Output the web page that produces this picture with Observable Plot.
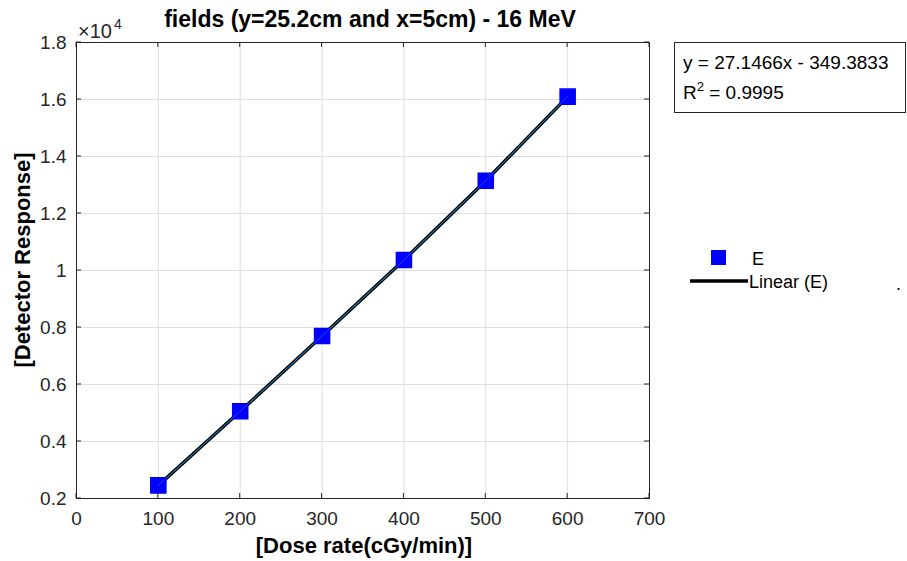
<!DOCTYPE html>
<html><head><meta charset="utf-8">
<script src="https://cdn.jsdelivr.net/npm/d3@7"></script>
<script src="https://cdn.jsdelivr.net/npm/@observablehq/plot@0.6"></script>
<style>body{margin:0;background:#fff}svg{font-family:"Liberation Sans",Arial,sans-serif}</style>
</head><body><div id="chart"></div>
<script>
const doseRate = [100, 200, 300, 400, 500, 600];
const response = [2460, 5060, 7700, 10370, 13150, 16100];
const fitSlope = 27.1466, fitIntercept = -349.3833, rSquared = 0.9995;
const xTicks = [0, 100, 200, 300, 400, 500, 600, 700];
const yTicks = [2000, 4000, 6000, 8000, 10000, 12000, 14000, 16000, 18000];

const pts = doseRate.map((x, i) => ({x, y: response[i]}));

const W = 907, H = 561, mL = 76, mR = 258, mT = 42, mB = 63;
const plot = Plot.plot({
  width: W, height: H,
  marginLeft: mL, marginRight: mR, marginTop: mT, marginBottom: mB,
  style: {fontFamily: '"Liberation Sans", Arial, sans-serif', fontSize: "19px", color: "#262626", background: "#fff"},
  x: {domain: [0, 700], ticks: xTicks, tickSize: 0, tickPadding: 13, tickFormat: d => String(d), label: null},
  y: {domain: [2000, 18000], ticks: yTicks, tickSize: 0, tickPadding: 10, tickFormat: d => String(d / 1e4), label: null},
  marks: [
    Plot.gridX(xTicks, {stroke: "#dfdfdf", strokeOpacity: 1}),
    Plot.gridY(yTicks, {stroke: "#dfdfdf", strokeOpacity: 1}),
    Plot.frame({stroke: "#262626", strokeWidth: 1}),
    Plot.line(pts, {x: "x", y: "y", stroke: "#000", strokeWidth: 3.5}),
    Plot.line(pts, {x: "x", y: "y", stroke: "#2a8ccf", strokeWidth: 1}),
    Plot.dot(pts, {x: "x", y: "y", symbol: "square", r: 8.5, fill: "#0000ff", stroke: "#0000ff"}),
    Plot.line(pts, {x: "x", y: "y", stroke: "#1f7fbf", strokeWidth: 1, strokeOpacity: 0.6})
  ]
});
document.getElementById("chart").appendChild(plot);

const svg = d3.select(plot);
const sx = plot.scale("x"), sy = plot.scale("y");
const g = svg.append("g").attr("stroke", "#262626").attr("stroke-width", 1);
const tl = 5;
xTicks.forEach(t => {
  const px = sx.apply(t);
  g.append("line").attr("x1", px).attr("x2", px).attr("y1", H - mB).attr("y2", H - mB - tl);
  g.append("line").attr("x1", px).attr("x2", px).attr("y1", mT).attr("y2", mT + tl);
});
yTicks.forEach(t => {
  const py = sy.apply(t);
  g.append("line").attr("x1", mL).attr("x2", mL + tl).attr("y1", py).attr("y2", py);
  g.append("line").attr("x1", W - mR).attr("x2", W - mR - tl).attr("y1", py).attr("y2", py);
});

const txt = (x, y, s, opts = {}) => {
  const t = svg.append("text").attr("x", x).attr("y", y).text(s)
    .style("font-size", (opts.size || 19) + "px").attr("fill", opts.fill || "#000")
    .attr("font-weight", opts.bold ? "bold" : "normal")
    .attr("text-anchor", opts.anchor || "start");
  if (opts.rotate) t.attr("transform", `rotate(-90 ${x} ${y})`);
  return t;
};
// title and labels
txt(370, 27, "fields (y=25.2cm and x=5cm) - 16 MeV", {size: 23, bold: true, anchor: "middle"});
txt(78, 38, "×10", {size: 20, fill: "#262626"});
txt(114, 29, "4", {size: 14, fill: "#262626"});
txt(364, 553, "[Dose rate(cGy/min)]", {size: 22, bold: true, anchor: "middle"});
txt(30, 260, "[Detector Response]", {size: 22, bold: true, anchor: "middle", rotate: true});

// annotation box
svg.append("rect").attr("x", 674.5).attr("y", 42.5).attr("width", 231).attr("height", 70)
  .attr("fill", "#fff").attr("stroke", "#262626").attr("stroke-width", 1);
txt(683, 69, `y = ${fitSlope}x - ${Math.abs(fitIntercept)}`, {size: 19});
const r2 = svg.append("text").attr("x", 683).attr("y", 99).attr("text-anchor", "start")
  .style("font-size", "19px").attr("fill", "#000");
r2.append("tspan").text("R");
r2.append("tspan").style("font-size", "13px").attr("dy", -8).text("2");
r2.append("tspan").attr("dy", 8).text(` = ${rSquared}`);

// legend
svg.append("rect").attr("x", 711).attr("y", 250).attr("width", 15).attr("height", 15).attr("fill", "#0000ff");
txt(752, 265, "E", {size: 18});
svg.append("line").attr("x1", 690).attr("x2", 748).attr("y1", 281).attr("y2", 281).attr("stroke", "#000").attr("stroke-width", 3.5);
txt(749, 288, "Linear (E)", {size: 18});
txt(896, 290, ".", {size: 18});
</script></body></html>
